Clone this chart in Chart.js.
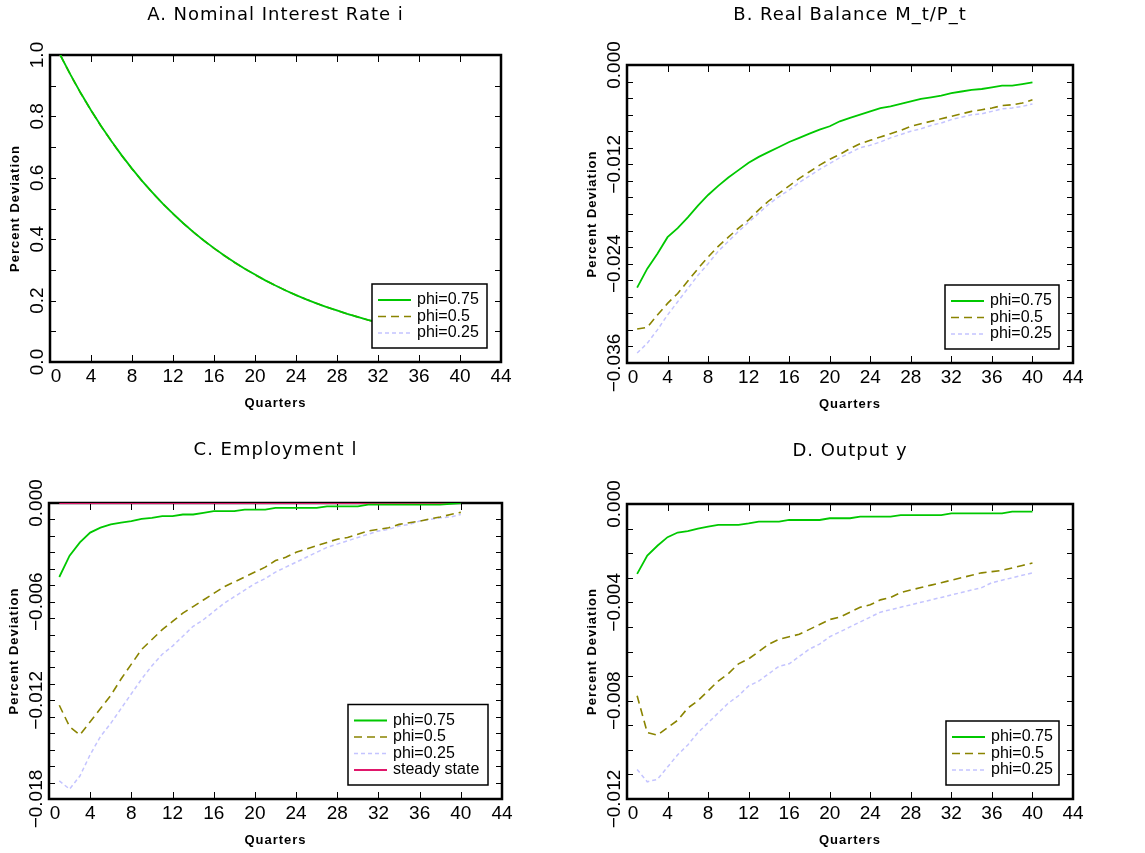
<!DOCTYPE html>
<html>
<head>
<meta charset="utf-8">
<script src="https://cdn.jsdelivr.net/npm/chart.js@4"></script>
<style>
  html, body { margin: 0; padding: 0; background: #fff; }
  #wrap { position: relative; width: 1145px; height: 853px; }
  canvas { position: absolute; }
</style>
</head>
<body>
<div id="wrap">
  <canvas id="chartA" width="572" height="426" style="left:0;top:0"></canvas>
  <canvas id="chartB" width="573" height="426" style="left:572px;top:0"></canvas>
  <canvas id="chartC" width="572" height="427" style="left:0;top:426px"></canvas>
  <canvas id="chartD" width="573" height="427" style="left:572px;top:426px"></canvas>
</div>
<script>
// quarters after the shock
const quarters = [1, 2, 3, 4, 5, 6, 7, 8, 9, 10, 11, 12, 13, 14, 15, 16, 17, 18, 19, 20,
  21, 22, 23, 24, 25, 26, 27, 28, 29, 30, 31, 32, 33, 34, 35, 36, 37, 38, 39, 40];
const xTicks = [0, 4, 8, 12, 16, 20, 24, 28, 32, 36, 40, 44];

// A. nominal interest rate (all three curves lie on top of each other)
const rate75 = [1.000, 0.936, 0.876, 0.820, 0.768, 0.719, 0.673, 0.630, 0.589, 0.552,
  0.516, 0.483, 0.452, 0.423, 0.396, 0.371, 0.347, 0.325, 0.304, 0.285,
  0.266, 0.249, 0.233, 0.218, 0.204, 0.191, 0.179, 0.168, 0.157, 0.147,
  0.137, 0.129, 0.120, 0.113, 0.105, 0.099, 0.092, 0.086, 0.081, 0.076];
const rate50 = [1.000, 0.935, 0.875, 0.820, 0.767, 0.719, 0.672, 0.629, 0.589, 0.551,
  0.516, 0.483, 0.452, 0.423, 0.396, 0.370, 0.347, 0.324, 0.304, 0.284,
  0.266, 0.249, 0.233, 0.218, 0.204, 0.191, 0.179, 0.167, 0.157, 0.147,
  0.137, 0.128, 0.120, 0.113, 0.105, 0.099, 0.092, 0.086, 0.081, 0.076];
const rate25 = [1.000, 0.935, 0.875, 0.819, 0.767, 0.718, 0.672, 0.629, 0.588, 0.551,
  0.515, 0.482, 0.451, 0.422, 0.395, 0.370, 0.346, 0.324, 0.303, 0.284,
  0.266, 0.248, 0.232, 0.217, 0.203, 0.190, 0.178, 0.167, 0.156, 0.146,
  0.137, 0.128, 0.120, 0.112, 0.105, 0.098, 0.092, 0.086, 0.080, 0.075];

// B. real balance
const real75 = [-0.0269, -0.0246, -0.0228, -0.0208, -0.0197, -0.0184, -0.0170, -0.0157, -0.0146, -0.0136,
  -0.0127, -0.0118, -0.0111, -0.0105, -0.0099, -0.0093, -0.0088, -0.0083, -0.0078, -0.0074,
  -0.0068, -0.0064, -0.0060, -0.0056, -0.0052, -0.0050, -0.0047, -0.0044, -0.0041, -0.0039,
  -0.0037, -0.0034, -0.0032, -0.0030, -0.0029, -0.0027, -0.0025, -0.0025, -0.0023, -0.0021];
const real50 = [-0.0319, -0.0317, -0.0302, -0.0288, -0.0276, -0.0261, -0.0246, -0.0232, -0.0219, -0.0208,
  -0.0197, -0.0187, -0.0175, -0.0164, -0.0155, -0.0146, -0.0137, -0.0129, -0.0121, -0.0114,
  -0.0108, -0.0101, -0.0095, -0.0091, -0.0087, -0.0083, -0.0079, -0.0074, -0.0071, -0.0068,
  -0.0065, -0.0062, -0.0059, -0.0056, -0.0054, -0.0052, -0.0049, -0.0048, -0.0046, -0.0042];
const real25 = [-0.0348, -0.0336, -0.0320, -0.0302, -0.0286, -0.0270, -0.0254, -0.0240, -0.0225, -0.0213,
  -0.0201, -0.0190, -0.0179, -0.0168, -0.0159, -0.0151, -0.0142, -0.0134, -0.0126, -0.0119,
  -0.0112, -0.0106, -0.0100, -0.0097, -0.0093, -0.0088, -0.0084, -0.0080, -0.0077, -0.0073,
  -0.0070, -0.0066, -0.0063, -0.0060, -0.0059, -0.0056, -0.0053, -0.0052, -0.0050, -0.0047];

// C. employment
const emp75 = [-0.0045, -0.0032, -0.0024, -0.0018, -0.0015, -0.0013, -0.0012, -0.0011, -0.00097, -0.0009,
  -0.0008, -0.0008, -0.0007, -0.0007, -0.0006, -0.0005, -0.0005, -0.0005, -0.0004, -0.0004,
  -0.0004, -0.0003, -0.0003, -0.0003, -0.0003, -0.0003, -0.0002, -0.0002, -0.0002, -0.0002,
  -0.0001, -0.0001, -0.0001, -0.0001, -0.0001, -0.0001, -0.0001, -0.0001, -0.00005, 0];
const emp50 = [-0.0123, -0.0136, -0.0141, -0.0133, -0.0125, -0.0117, -0.0107, -0.0098, -0.0089, -0.0083,
  -0.0077, -0.0072, -0.0067, -0.0063, -0.0059, -0.0055, -0.0051, -0.0048, -0.0045, -0.0042,
  -0.0039, -0.0035, -0.0033, -0.0030, -0.0028, -0.0026, -0.0024, -0.0022, -0.0021, -0.0019,
  -0.0017, -0.0016, -0.0015, -0.0013, -0.0012, -0.0011, -0.00097, -0.00085, -0.0007, -0.00057];
const emp25 = [-0.0169, -0.0174, -0.0166, -0.0153, -0.0142, -0.0134, -0.0125, -0.0116, -0.0107, -0.0099,
  -0.0092, -0.0087, -0.0081, -0.0075, -0.0071, -0.0066, -0.0061, -0.0057, -0.0053, -0.0049,
  -0.0046, -0.0042, -0.0039, -0.0036, -0.0033, -0.0030, -0.0027, -0.0025, -0.0023, -0.0021,
  -0.0019, -0.0017, -0.0016, -0.0014, -0.0013, -0.0011, -0.0010, -0.0009, -0.00085, -0.0007];
const steady = [0, 0, 0, 0, 0, 0, 0, 0, 0, 0, 0, 0, 0, 0, 0, 0, 0, 0, 0, 0,
  0, 0, 0, 0, 0, 0, 0, 0, 0, 0, 0, 0, 0, 0, 0, 0, 0, 0, 0, 0];

// D. output
const out75 = [-0.00284, -0.0021, -0.0017, -0.00135, -0.00116, -0.0011, -0.0010, -0.00092, -0.00085, -0.00085,
  -0.00085, -0.00079, -0.00072, -0.00072, -0.00072, -0.00065, -0.00065, -0.00065, -0.00065, -0.00058,
  -0.00058, -0.00058, -0.00051, -0.00051, -0.00051, -0.00051, -0.00045, -0.00045, -0.00045, -0.00045,
  -0.00045, -0.00038, -0.00038, -0.00038, -0.00038, -0.00038, -0.00038, -0.00031, -0.00031, -0.00031];
const out50 = [-0.0078, -0.0093, -0.0094, -0.0091, -0.0088, -0.0083, -0.0080, -0.0076, -0.0072, -0.0069,
  -0.0065, -0.0063, -0.0060, -0.0057, -0.0055, -0.0054, -0.0053, -0.0051, -0.0049, -0.0047,
  -0.0046, -0.0044, -0.0042, -0.0041, -0.0039, -0.0038, -0.0036, -0.0035, -0.0034, -0.0033,
  -0.0032, -0.0031, -0.0030, -0.0029, -0.0028, -0.00275, -0.0027, -0.0026, -0.0025, -0.0024];
const out25 = [-0.0108, -0.0113, -0.0112, -0.0107, -0.0102, -0.0098, -0.0093, -0.0089, -0.0085, -0.0081,
  -0.0078, -0.0074, -0.0072, -0.0069, -0.0066, -0.0065, -0.0062, -0.0059, -0.0057, -0.0054,
  -0.0052, -0.0050, -0.0048, -0.0046, -0.0044, -0.0043, -0.0042, -0.0041, -0.0040, -0.0039,
  -0.0038, -0.0037, -0.0036, -0.0035, -0.0034, -0.0032, -0.0031, -0.0030, -0.0029, -0.0028];

// y tick values and their labels
const yTicksA = [0, 0.2, 0.4, 0.6, 0.8, 1.0];
const yLabelsA = ['0.0', '0.2', '0.4', '0.6', '0.8', '1.0'];
const yTicksB = [-0.036, -0.024, -0.012, 0];
const yLabelsB = ['\u22120.036', '\u22120.024', '\u22120.012', '0.000'];
const yTicksC = [-0.018, -0.012, -0.006, 0];
const yLabelsC = ['\u22120.018', '\u22120.012', '\u22120.006', '0.000'];
const yTicksD = [-0.012, -0.008, -0.004, 0];
const yLabelsD = ['\u22120.012', '\u22120.008', '\u22120.004', '0.000'];

// line styles
const GREEN = { color: '#00c800', dash: [], width: 1.8 };
const OLIVE = { color: '#8a8400', dash: [8, 5], width: 1.6 };
const LAVENDER = { color: '#c4c4ff', dash: [4, 3], width: 1.5 };
const CRIMSON = { color: '#e0176b', dash: [], width: 2 };

const TICK_FONT = '19px "Liberation Sans", Arial, sans-serif';

// frame, inward ticks, tick labels, titles and the boxed legend
const ideFrame = {
  id: 'ideFrame',
  beforeDatasetsDraw(chart, args, o) {
    const { ctx, chartArea: a, scales: { x, y } } = chart;
    ctx.save();
    ctx.strokeStyle = '#000';
    ctx.lineWidth = 1;
    ctx.beginPath();
    xTicks.forEach(v => {
      const px = Math.round(x.getPixelForValue(v)) + 0.5;
      ctx.moveTo(px, a.bottom); ctx.lineTo(px, a.bottom - 7);
      ctx.moveTo(px, a.top); ctx.lineTo(px, a.top + 7);
    });
    const n = Math.round((o.yMax - o.yMin) / o.yMinor);
    for (let i = 1; i < n; i++) {
      const py = Math.round(y.getPixelForValue(o.yMin + i * o.yMinor)) + 0.5;
      ctx.moveTo(a.left, py); ctx.lineTo(a.left + 6, py);
      ctx.moveTo(a.right, py); ctx.lineTo(a.right - 6, py);
    }
    ctx.stroke();

    // plot box
    ctx.lineWidth = 2.5;
    ctx.strokeRect(a.left, a.top, a.right - a.left, a.bottom - a.top);

    ctx.fillStyle = '#000';
    ctx.font = TICK_FONT;
    ctx.textAlign = 'center';
    ctx.textBaseline = 'middle';

    // x tick labels (the first one is pushed right, clear of the y labels)
    xTicks.forEach((v, i) => {
      ctx.fillText(String(v), x.getPixelForValue(v) + (i === 0 ? 6 : 0), a.bottom + 15);
    });

    // y tick labels, rotated
    o.yTicks.forEach((v, i) => {
      ctx.save();
      ctx.translate(a.left - 12, y.getPixelForValue(v));
      ctx.rotate(-Math.PI / 2);
      ctx.fillText(o.yLabels[i], 0, 0);
      ctx.restore();
    });

    // axis titles
    ctx.font = 'bold 13px "Liberation Sans", Arial, sans-serif';
    ctx.letterSpacing = '1px';
    ctx.save();
    ctx.translate(a.left - 35, (a.top + a.bottom) / 2);
    ctx.rotate(-Math.PI / 2);
    ctx.fillText('Percent Deviation', 0, 0);
    ctx.restore();
    ctx.fillText('Quarters', (a.left + a.right) / 2, a.bottom + 41);

    // panel title
    ctx.font = '18px "DejaVu Sans", sans-serif';
    ctx.letterSpacing = '1px';
    ctx.fillText(o.title, (a.left + a.right) / 2, o.titleY);
    ctx.restore();
  },
  afterDatasetsDraw(chart, args, o) {
    const { ctx, chartArea: a } = chart;
    const sets = chart.data.datasets;
    const h = 16 + 16.5 * (sets.length - 1) + 15;
    const bx = a.right - 14 - o.legendW;
    const by = a.bottom - 14 - h;
    ctx.save();
    ctx.fillStyle = '#fff';
    ctx.fillRect(bx, by, o.legendW, h);
    ctx.strokeStyle = '#000';
    ctx.lineWidth = 1.5;
    ctx.strokeRect(bx, by, o.legendW, h);
    ctx.font = '16px "Liberation Sans", Arial, sans-serif';
    ctx.textBaseline = 'middle';
    sets.forEach((ds, i) => {
      const ry = by + 16 + 16.5 * i;
      ctx.strokeStyle = ds.borderColor;
      ctx.lineWidth = ds.borderWidth;
      ctx.setLineDash(ds.borderDash || []);
      ctx.beginPath();
      ctx.moveTo(bx + 6, ry); ctx.lineTo(bx + 39, ry);
      ctx.stroke();
      ctx.fillStyle = '#000';
      ctx.fillText(ds.label, bx + 45, ry);
    });
    ctx.restore();
  }
};

// build one panel
function makePanel(id, p) {
  const canvas = document.getElementById(id);
  const [L, T, R, B] = p.box;
  const datasets = p.series.map(s => ({
    label: s.label,
    data: quarters.map((q, i) => ({ x: q, y: s.values[i] })),
    borderColor: s.style.color,
    borderDash: s.style.dash,
    borderWidth: s.style.width,
    pointRadius: 0,
    tension: 0,
    fill: false
  }));
  return new Chart(canvas.getContext('2d'), {
    type: 'line',
    data: { datasets },
    options: {
      responsive: false,
      animation: false,
      layout: { padding: { left: L, top: T, right: canvas.width - R, bottom: canvas.height - B } },
      scales: {
        x: {
          type: 'linear', min: 0, max: 44,
          afterFit: s => { s.height = 0; },
          grid: { display: false }, border: { display: false },
          ticks: { display: false }
        },
        y: {
          type: 'linear', min: p.yMin, max: p.yMax,
          afterFit: s => { s.width = 0; },
          grid: { display: false }, border: { display: false },
          ticks: { display: false }
        }
      },
      plugins: {
        legend: { display: false },
        tooltip: { enabled: false },
        ideFrame: {
          title: p.title, titleY: p.titleY, legendW: p.legendW,
          yMin: p.yMin, yMax: p.yMax, yMinor: p.yMinor,
          yTicks: p.yTicks, yLabels: p.yLabels
        }
      }
    },
    plugins: [ideFrame]
  });
}

makePanel('chartA', {
  title: 'A. Nominal Interest Rate i', titleY: 15, box: [50, 55, 501, 362],
  yMin: 0, yMax: 1, yMinor: 0.1, yTicks: yTicksA, yLabels: yLabelsA, legendW: 115,
  series: [
    { label: 'phi=0.75', values: rate75, style: GREEN },
    { label: 'phi=0.5', values: rate50, style: OLIVE },
    { label: 'phi=0.25', values: rate25, style: LAVENDER }
  ]
});

makePanel('chartB', {
  title: 'B. Real Balance M_t/P_t', titleY: 15, box: [55, 65, 501, 363],
  yMin: -0.036, yMax: 0, yMinor: 0.002, yTicks: yTicksB, yLabels: yLabelsB, legendW: 114,
  series: [
    { label: 'phi=0.75', values: real75, style: GREEN },
    { label: 'phi=0.5', values: real50, style: OLIVE },
    { label: 'phi=0.25', values: real25, style: LAVENDER }
  ]
});

makePanel('chartC', {
  title: 'C. Employment l', titleY: 24, box: [49, 77, 502, 373],
  yMin: -0.018, yMax: 0, yMinor: 0.001, yTicks: yTicksC, yLabels: yLabelsC, legendW: 140,
  series: [
    { label: 'phi=0.75', values: emp75, style: GREEN },
    { label: 'phi=0.5', values: emp50, style: OLIVE },
    { label: 'phi=0.25', values: emp25, style: LAVENDER },
    { label: 'steady state', values: steady, style: CRIMSON }
  ]
});

makePanel('chartD', {
  title: 'D. Output y', titleY: 25, box: [55, 78, 501, 373],
  yMin: -0.012, yMax: 0, yMinor: 0.001, yTicks: yTicksD, yLabels: yLabelsD, legendW: 113,
  series: [
    { label: 'phi=0.75', values: out75, style: GREEN },
    { label: 'phi=0.5', values: out50, style: OLIVE },
    { label: 'phi=0.25', values: out25, style: LAVENDER }
  ]
});
</script>
</body>
</html>
